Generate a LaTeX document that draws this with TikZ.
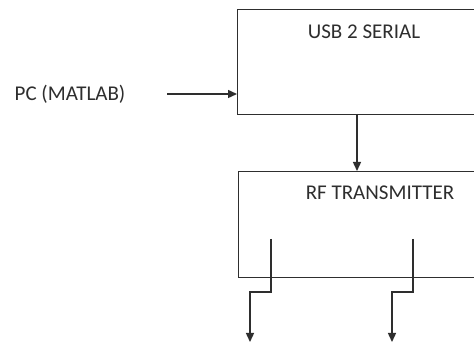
\documentclass[tikz,border=0pt]{standalone}
\usepackage{fontspec}
\setmainfont{Carlito}
\usetikzlibrary{arrows.meta}
\definecolor{ink}{HTML}{2E2E2E}
\begin{document}
\begin{tikzpicture}[x=1pt,y=1pt,
  blockbox/.style={draw=ink,line width=1.4pt,rectangle,inner sep=0pt,anchor=north west},
  lbl/.style={text=ink,font=\fontsize{21}{25}\selectfont,inner sep=0pt},
  conn/.style={draw=ink,line width=1.4pt,-{Triangle[length=9pt,width=8pt]}}]
\clip (0,0) rectangle (474,350);
\fill[white] (0,0) rectangle (474,350);
% blocks
\node[blockbox,minimum width=283pt,minimum height=105pt] (usb) at (237,341) {};
\node[lbl] (usbt) at (364,318) {USB 2 SERIAL};
\node[blockbox,minimum width=282pt,minimum height=106pt] (rf) at (238,179) {};
\node[lbl] (rft) at (380,157) {RF TRANSMITTER};
% input
\node[lbl] (pc) at (70,256) {PC (MATLAB)};
\coordinate (pcout) at (167,256);
\draw[conn] (pcout) -- (usb.west |- pcout);
\coordinate (usbS) at (357,236);
\draw[conn] (usbS) -- (rf.north -| usbS);
% antennas
\coordinate (a1) at (271,111);
\coordinate (a1e) at (250,8);
\coordinate (a2) at (413,111);
\coordinate (a2e) at (392,8);
\draw[conn] (a1) -- (271,58) -- (250,58) -- (a1e);
\draw[conn] (a2) -- (413,58) -- (392,58) -- (a2e);
\end{tikzpicture}
\end{document}
